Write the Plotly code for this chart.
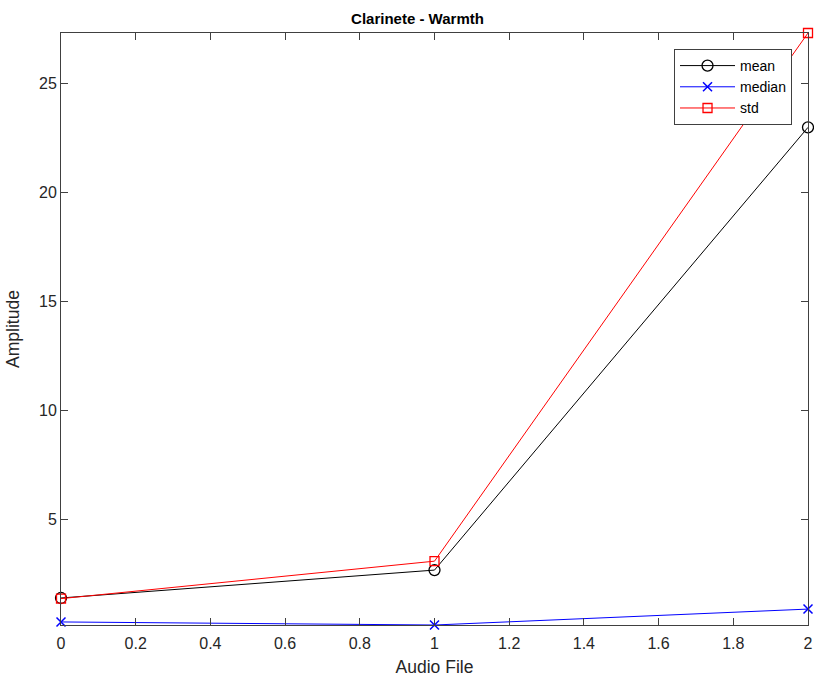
import plotly.graph_objects as go

x_vals = [0, 1, 2]
mean_vals = [1.38, 2.66, 22.98]
median_vals = [0.28, 0.14, 0.87]
std_vals = [1.35, 3.07, 27.31]
y_ticks = [5, 10, 15, 20, 25]
x_ticks = [0, 0.2, 0.4, 0.6, 0.8, 1, 1.2, 1.4, 1.6, 1.8, 2]
x_tick_text = ["0", "0.2", "0.4", "0.6", "0.8", "1", "1.2", "1.4", "1.6", "1.8", "2"]

FONT = "Liberation Sans, Arial, Helvetica"
W, H = 814, 677

fig = go.Figure()
fig.add_trace(go.Scatter(x=x_vals, y=mean_vals, mode="lines+markers", name="mean",
                         line=dict(color="black", width=1),
                         marker=dict(symbol="circle-open", size=11, color="black", line=dict(width=1.3)),
                         cliponaxis=False))
fig.add_trace(go.Scatter(x=x_vals, y=median_vals, mode="lines+markers", name="median",
                         line=dict(color="blue", width=1),
                         marker=dict(symbol="x-thin-open", size=9, color="blue", line=dict(width=1.5, color="blue")),
                         cliponaxis=False))
fig.add_trace(go.Scatter(x=x_vals, y=std_vals, mode="lines+markers", name="std",
                         line=dict(color="red", width=1),
                         marker=dict(symbol="square-open", size=9, color="red", line=dict(width=1.3)),
                         cliponaxis=False))

axis_common = dict(showgrid=False, zeroline=False, showline=True, linecolor="#404040", linewidth=1,
                   mirror="ticks", ticks="inside", ticklen=7, tickcolor="#404040", automargin=False,
                   tickfont=dict(family=FONT, size=16, color="#262626"))

fig.update_layout(
    width=W, height=H,
    margin=dict(l=61, r=6, t=33, b=52),
    paper_bgcolor="white", plot_bgcolor="white",
    title=dict(text="<b>Clarinete - Warmth</b>", x=417.5 / W, xref="container", xanchor="center",
               y=1 - 19 / H, yref="container", yanchor="middle", automargin=False,
               font=dict(family=FONT, size=15, color="black")),
    xaxis=dict(range=[0, 2], tickvals=x_ticks, ticktext=x_tick_text, ticklabelstandoff=4,
               title=dict(text="Audio File", font=dict(family=FONT, size=17.5, color="#262626"), standoff=12),
               **axis_common),
    yaxis=dict(range=[0.14, 27.31], tickvals=y_ticks,
               title=dict(text="Amplitude", font=dict(family=FONT, size=17.5, color="#262626"), standoff=14),
               **axis_common),
    legend=dict(x=0.9786, y=0.973, xanchor="right", yanchor="top", bgcolor="white",
                bordercolor="#404040", borderwidth=1,
                font=dict(family=FONT, size=14, color="black"),
                tracegroupgap=0, itemwidth=55),
    showlegend=True,
)

fig.write_html("out.html", config={"displayModeBar": False},
               post_script="document.body.style.margin='0';document.body.style.overflow='hidden';")
